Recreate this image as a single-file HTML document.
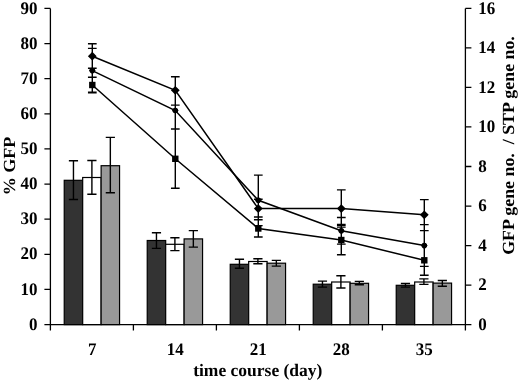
<!DOCTYPE html>
<html><head><meta charset="utf-8"><style>
html,body{margin:0;padding:0;background:#fff;width:520px;height:382px;overflow:hidden}
svg{display:block}
</style></head><body>
<svg style="filter:grayscale(1)" width="520" height="382" viewBox="0 0 520 382">
<g><rect x="64.23" y="180.3" width="18.44" height="144.3" fill="#333333" stroke="#000" stroke-width="1.2"/><rect x="82.68" y="177.5" width="18.44" height="147.1" fill="#ffffff" stroke="#000" stroke-width="1.2"/><rect x="101.12" y="165.7" width="18.44" height="158.9" fill="#999999" stroke="#000" stroke-width="1.2"/><rect x="147.23" y="240.5" width="18.44" height="84.1" fill="#333333" stroke="#000" stroke-width="1.2"/><rect x="165.68" y="244.3" width="18.44" height="80.3" fill="#ffffff" stroke="#000" stroke-width="1.2"/><rect x="184.12" y="238.9" width="18.44" height="85.7" fill="#999999" stroke="#000" stroke-width="1.2"/><rect x="230.23" y="264.3" width="18.44" height="60.3" fill="#333333" stroke="#000" stroke-width="1.2"/><rect x="248.68" y="261.5" width="18.44" height="63.1" fill="#ffffff" stroke="#000" stroke-width="1.2"/><rect x="267.12" y="263.2" width="18.44" height="61.4" fill="#999999" stroke="#000" stroke-width="1.2"/><rect x="313.23" y="284.2" width="18.44" height="40.4" fill="#333333" stroke="#000" stroke-width="1.2"/><rect x="331.68" y="282" width="18.44" height="42.6" fill="#ffffff" stroke="#000" stroke-width="1.2"/><rect x="350.12" y="283.3" width="18.44" height="41.3" fill="#999999" stroke="#000" stroke-width="1.2"/><rect x="396.23" y="285.3" width="18.44" height="39.3" fill="#333333" stroke="#000" stroke-width="1.2"/><rect x="414.68" y="282" width="18.44" height="42.6" fill="#ffffff" stroke="#000" stroke-width="1.2"/><rect x="433.12" y="283.1" width="18.44" height="41.5" fill="#999999" stroke="#000" stroke-width="1.2"/><path d="M73.46 160.8V199.5M68.86 160.8h9.2M68.86 199.5h9.2" stroke="#000" stroke-width="1.4" fill="none"/><path d="M91.9 160.5V194.3M87.3 160.5h9.2M87.3 194.3h9.2" stroke="#000" stroke-width="1.4" fill="none"/><path d="M110.34 137.4V192.7M105.74 137.4h9.2M105.74 192.7h9.2" stroke="#000" stroke-width="1.4" fill="none"/><path d="M156.46 232.8V248.4M151.86 232.8h9.2M151.86 248.4h9.2" stroke="#000" stroke-width="1.4" fill="none"/><path d="M174.9 237.8V250.6M170.3 237.8h9.2M170.3 250.6h9.2" stroke="#000" stroke-width="1.4" fill="none"/><path d="M193.34 230.6V247.1M188.74 230.6h9.2M188.74 247.1h9.2" stroke="#000" stroke-width="1.4" fill="none"/><path d="M239.46 259.2V268.3M234.86 259.2h9.2M234.86 268.3h9.2" stroke="#000" stroke-width="1.4" fill="none"/><path d="M257.9 258.8V263.7M253.3 258.8h9.2M253.3 263.7h9.2" stroke="#000" stroke-width="1.4" fill="none"/><path d="M276.34 260.4V266.1M271.74 260.4h9.2M271.74 266.1h9.2" stroke="#000" stroke-width="1.4" fill="none"/><path d="M322.46 281.1V287.1M317.86 281.1h9.2M317.86 287.1h9.2" stroke="#000" stroke-width="1.4" fill="none"/><path d="M340.9 275.8V288M336.3 275.8h9.2M336.3 288h9.2" stroke="#000" stroke-width="1.4" fill="none"/><path d="M359.34 281.4V284.7M354.74 281.4h9.2M354.74 284.7h9.2" stroke="#000" stroke-width="1.4" fill="none"/><path d="M405.46 283.5V287.1M400.86 283.5h9.2M400.86 287.1h9.2" stroke="#000" stroke-width="1.4" fill="none"/><path d="M423.9 278.9V284.4M419.3 278.9h9.2M419.3 284.4h9.2" stroke="#000" stroke-width="1.4" fill="none"/><path d="M442.34 280.5V286.2M437.74 280.5h9.2M437.74 286.2h9.2" stroke="#000" stroke-width="1.4" fill="none"/><path d="M50.4 8.4V330.6M44.4 324.6H465.4M465.4 8.4V324.6M44.4 324.6H50.4M44.4 289.47H50.4M44.4 254.33H50.4M44.4 219.2H50.4M44.4 184.07H50.4M44.4 148.93H50.4M44.4 113.8H50.4M44.4 78.67H50.4M44.4 43.53H50.4M44.4 8.4H50.4M465.4 324.6H471.4M465.4 285.08H471.4M465.4 245.55H471.4M465.4 206.03H471.4M465.4 166.5H471.4M465.4 126.97H471.4M465.4 87.45H471.4M465.4 47.92H471.4M465.4 8.4H471.4M50.4 324.6V330.6M133.4 324.6V330.6M216.4 324.6V330.6M299.4 324.6V330.6M382.4 324.6V330.6M465.4 324.6V330.6" stroke="#000" stroke-width="1.3" fill="none"/><path d="M92.3 43.7V92.9M87.95 43.7h8.7M87.95 48.4h8.7M87.95 68.3h8.7M87.95 77.3h8.7M87.95 92.3h8.7M87.95 92.9h8.7" stroke="#000" stroke-width="1.4" fill="none"/><path d="M175.3 76.7V188.2M170.95 76.7h8.7M170.95 105.1h8.7M170.95 129h8.7M170.95 188.2h8.7" stroke="#000" stroke-width="1.4" fill="none"/><path d="M258.3 175.1V237M253.95 175.1h8.7M253.95 199.3h8.7M253.95 217h8.7M253.95 219.8h8.7M253.95 225.6h8.7M253.95 237h8.7" stroke="#000" stroke-width="1.4" fill="none"/><path d="M341.3 189.9V254.8M336.95 189.9h8.7M336.95 217.5h8.7M336.95 224.4h8.7M336.95 225.4h8.7M336.95 227.1h8.7M336.95 244.1h8.7M336.95 254.8h8.7" stroke="#000" stroke-width="1.4" fill="none"/><path d="M424.3 199.6V275.3M419.95 199.6h8.7M419.95 224.6h8.7M419.95 230.6h8.7M419.95 266.4h8.7M419.95 275.3h8.7" stroke="#000" stroke-width="1.4" fill="none"/><polyline points="92.3,56.2 175.3,90.3 258.3,208.6 341.3,208.6 424.3,214.8" stroke="#000" stroke-width="1.5" fill="none"/><polyline points="92.3,70.6 175.3,110.5 258.3,200.3 341.3,230.8 424.3,245.6" stroke="#000" stroke-width="1.5" fill="none"/><polyline points="92.3,85 175.3,158.8 258.3,228.5 341.3,240 424.3,260.3" stroke="#000" stroke-width="1.5" fill="none"/><path d="M92.3 51.8L96.7 56.2L92.3 60.6L87.9 56.2Z" fill="#000"/><path d="M92.3 67.3L95.6 70.6L92.3 73.9L89 70.6Z" fill="#000"/><circle cx="92.3" cy="70.6" r="2.8" fill="#000"/><rect x="89.1" y="81.8" width="6.4" height="6.4" fill="#000"/><path d="M175.3 85.9L179.7 90.3L175.3 94.7L170.9 90.3Z" fill="#000"/><path d="M175.3 107.2L178.6 110.5L175.3 113.8L172 110.5Z" fill="#000"/><circle cx="175.3" cy="110.5" r="2.8" fill="#000"/><rect x="172.1" y="155.6" width="6.4" height="6.4" fill="#000"/><path d="M258.3 204.2L262.7 208.6L258.3 213L253.9 208.6Z" fill="#000"/><path d="M258.3 197L261.6 200.3L258.3 203.6L255 200.3Z" fill="#000"/><circle cx="258.3" cy="200.3" r="2.8" fill="#000"/><rect x="255.1" y="225.3" width="6.4" height="6.4" fill="#000"/><path d="M341.3 204.2L345.7 208.6L341.3 213L336.9 208.6Z" fill="#000"/><path d="M341.3 227.5L344.6 230.8L341.3 234.1L338 230.8Z" fill="#000"/><circle cx="341.3" cy="230.8" r="2.8" fill="#000"/><rect x="338.1" y="236.8" width="6.4" height="6.4" fill="#000"/><path d="M424.3 210.4L428.7 214.8L424.3 219.2L419.9 214.8Z" fill="#000"/><path d="M424.3 242.3L427.6 245.6L424.3 248.9L421 245.6Z" fill="#000"/><circle cx="424.3" cy="245.6" r="2.8" fill="#000"/><rect x="421.1" y="257.1" width="6.4" height="6.4" fill="#000"/></g>
<g font-family="Liberation Serif, serif" font-weight="bold" fill="#000" text-rendering="geometricPrecision"><text transform="translate(37.6,329.7) scale(1.0,1.04)" text-anchor="end" font-size="17">0</text><text transform="translate(37.6,294.57) scale(1.0,1.04)" text-anchor="end" font-size="17">10</text><text transform="translate(37.6,259.43) scale(1.0,1.04)" text-anchor="end" font-size="17">20</text><text transform="translate(37.6,224.3) scale(1.0,1.04)" text-anchor="end" font-size="17">30</text><text transform="translate(37.6,189.17) scale(1.0,1.04)" text-anchor="end" font-size="17">40</text><text transform="translate(37.6,154.03) scale(1.0,1.04)" text-anchor="end" font-size="17">50</text><text transform="translate(37.6,118.9) scale(1.0,1.04)" text-anchor="end" font-size="17">60</text><text transform="translate(37.6,83.77) scale(1.0,1.04)" text-anchor="end" font-size="17">70</text><text transform="translate(37.6,48.63) scale(1.0,1.04)" text-anchor="end" font-size="17">80</text><text transform="translate(37.6,13.5) scale(1.0,1.04)" text-anchor="end" font-size="17">90</text><text transform="translate(478.3,329.7) scale(1.0,1.04)" text-anchor="start" font-size="17">0</text><text transform="translate(478.3,290.18) scale(1.0,1.04)" text-anchor="start" font-size="17">2</text><text transform="translate(478.3,250.65) scale(1.0,1.04)" text-anchor="start" font-size="17">4</text><text transform="translate(478.3,211.12) scale(1.0,1.04)" text-anchor="start" font-size="17">6</text><text transform="translate(478.3,171.6) scale(1.0,1.04)" text-anchor="start" font-size="17">8</text><text transform="translate(478.3,132.07) scale(1.0,1.04)" text-anchor="start" font-size="17">10</text><text transform="translate(478.3,92.55) scale(1.0,1.04)" text-anchor="start" font-size="17">12</text><text transform="translate(478.3,53.02) scale(1.0,1.04)" text-anchor="start" font-size="17">14</text><text transform="translate(478.3,13.5) scale(1.0,1.04)" text-anchor="start" font-size="17">16</text><text transform="translate(92.3,354.8) scale(1.0,1.04)" text-anchor="middle" font-size="17">7</text><text transform="translate(175.3,354.8) scale(1.0,1.04)" text-anchor="middle" font-size="17">14</text><text transform="translate(258.3,354.8) scale(1.0,1.04)" text-anchor="middle" font-size="17">21</text><text transform="translate(341.3,354.8) scale(1.0,1.04)" text-anchor="middle" font-size="17">28</text><text transform="translate(424.3,354.8) scale(1.0,1.04)" text-anchor="middle" font-size="17">35</text><text transform="translate(257.8,376.3) scale(1.0,1)" text-anchor="middle" font-size="17.5">time course (day)</text><text transform="translate(15.2,166) rotate(-90) scale(1.063,1.0)" text-anchor="middle" font-size="17">% GFP</text><text transform="translate(513.8,145.5) rotate(-90) scale(1.05,1.0)" text-anchor="middle" font-size="17" xml:space="preserve">GFP gene no.  / STP gene no.</text></g>
</svg>
</body></html>
